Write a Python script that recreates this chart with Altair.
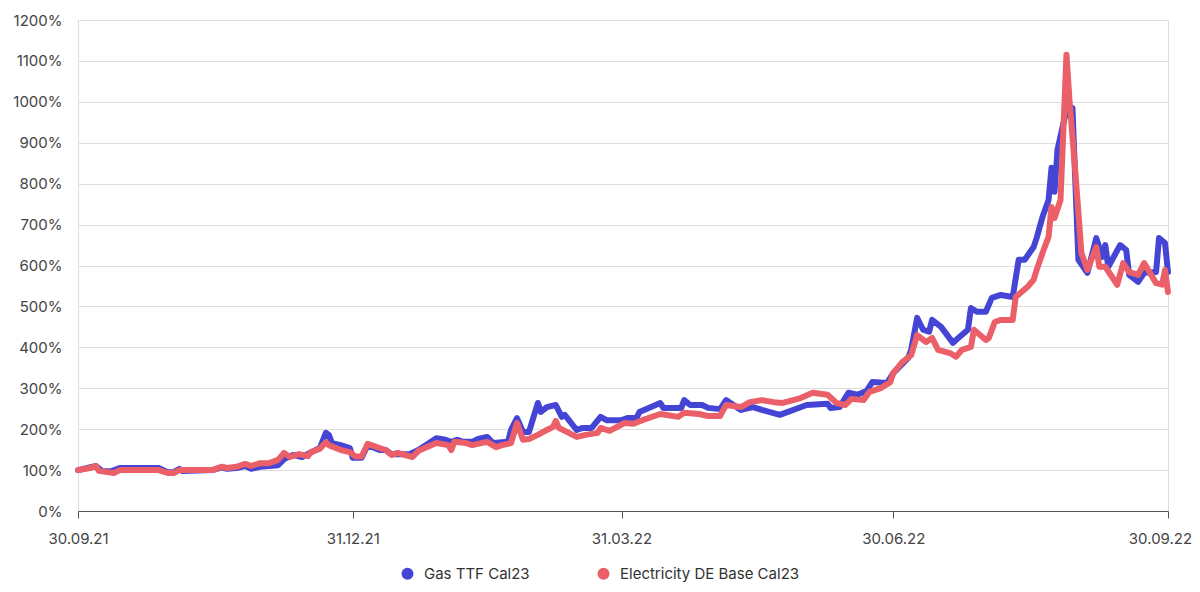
import altair as alt
import pandas as pd

series_names = ["Gas TTF Cal23", "Electricity DE Base Cal23"]
series_colors = ["#4545d5", "#eb5f69"]

gas_dates = [
    "2021-09-30", "2021-10-06", "2021-10-08", "2021-10-11", "2021-10-14", "2021-10-27",
    "2021-10-30", "2021-11-01", "2021-11-03", "2021-11-04", "2021-11-14", "2021-11-17",
    "2021-11-19", "2021-11-22", "2021-11-25", "2021-11-27", "2021-11-30", "2021-12-03",
    "2021-12-06", "2021-12-08", "2021-12-09", "2021-12-11", "2021-12-14", "2021-12-18",
    "2021-12-20", "2021-12-22", "2021-12-23", "2021-12-24", "2021-12-27", "2021-12-30",
    "2021-12-31", "2022-01-03", "2022-01-05", "2022-01-09", "2022-01-11", "2022-01-13",
    "2022-01-19", "2022-01-22", "2022-01-28", "2022-01-31", "2022-02-02", "2022-02-04",
    "2022-02-06", "2022-02-09", "2022-02-11", "2022-02-14", "2022-02-16", "2022-02-21",
    "2022-02-22", "2022-02-24", "2022-02-26", "2022-02-28", "2022-03-03", "2022-03-04",
    "2022-03-06", "2022-03-09", "2022-03-11", "2022-03-12", "2022-03-16", "2022-03-18",
    "2022-03-21", "2022-03-24", "2022-03-26", "2022-03-31", "2022-04-02", "2022-04-05",
    "2022-04-06", "2022-04-13", "2022-04-14", "2022-04-20", "2022-04-21", "2022-04-23",
    "2022-04-27", "2022-04-29", "2022-05-03", "2022-05-05", "2022-05-10", "2022-05-14",
    "2022-05-17", "2022-05-23", "2022-06-01", "2022-06-08", "2022-06-09", "2022-06-12",
    "2022-06-15", "2022-06-18", "2022-06-21", "2022-06-23", "2022-06-28", "2022-06-30",
    "2022-07-05", "2022-07-06", "2022-07-08", "2022-07-10", "2022-07-12", "2022-07-13",
    "2022-07-16", "2022-07-20", "2022-07-21", "2022-07-25", "2022-07-26", "2022-07-28",
    "2022-07-31", "2022-08-02", "2022-08-05", "2022-08-09", "2022-08-11", "2022-08-13",
    "2022-08-16", "2022-08-17", "2022-08-19", "2022-08-21", "2022-08-22", "2022-08-23",
    "2022-08-24", "2022-08-27", "2022-08-29", "2022-08-31", "2022-09-03", "2022-09-06",
    "2022-09-08", "2022-09-09", "2022-09-10", "2022-09-14", "2022-09-16", "2022-09-17",
    "2022-09-20", "2022-09-22", "2022-09-26", "2022-09-27", "2022-09-29", "2022-09-30",
]
gas_values = [
    100, 110, 98, 97, 105, 105,
    95, 95, 103, 98, 100, 106,
    103, 105, 110, 103, 108, 110,
    112, 127, 130, 137, 132, 147,
    154, 191, 186, 166, 161, 154,
    130, 130, 161, 149, 149, 139,
    139, 149, 178, 174, 169, 174,
    169, 169, 176, 181, 166, 169,
    198, 227, 193, 193, 264, 242,
    254, 259, 230, 235, 198, 203,
    203, 230, 222, 222, 227, 227,
    242, 264, 252, 252, 271, 259,
    259, 252, 249, 271, 247, 254,
    247, 235, 259, 262, 252, 254,
    289, 284, 293, 315, 313, 337,
    374, 394, 472, 443, 438, 467,
    450, 411, 418, 443, 496, 487,
    487, 521, 528, 523, 614, 614,
    645, 667, 719, 760, 839, 780,
    883, 980, 985, 614, 582, 667,
    621, 650, 597, 650, 638, 577,
    560, 582, 584, 667, 655, 584,
]

elec_dates = [
    "2021-09-30", "2021-10-04", "2021-10-06", "2021-10-07", "2021-10-10", "2021-10-12",
    "2021-10-14", "2021-10-27", "2021-10-30", "2021-11-01", "2021-11-03", "2021-11-14",
    "2021-11-17", "2021-11-19", "2021-11-22", "2021-11-25", "2021-11-27", "2021-11-30",
    "2021-12-03", "2021-12-06", "2021-12-08", "2021-12-10", "2021-12-13", "2021-12-16",
    "2021-12-17", "2021-12-20", "2021-12-22", "2021-12-23", "2021-12-27", "2021-12-30",
    "2022-01-01", "2022-01-03", "2022-01-05", "2022-01-09", "2022-01-11", "2022-01-13",
    "2022-01-15", "2022-01-20", "2022-01-22", "2022-01-28", "2022-02-01", "2022-02-02",
    "2022-02-03", "2022-02-07", "2022-02-09", "2022-02-12", "2022-02-14", "2022-02-17",
    "2022-02-19", "2022-02-22", "2022-02-24", "2022-02-26", "2022-02-28", "2022-03-03",
    "2022-03-06", "2022-03-08", "2022-03-09", "2022-03-10", "2022-03-16", "2022-03-19",
    "2022-03-23", "2022-03-24", "2022-03-27", "2022-04-01", "2022-04-04", "2022-04-07",
    "2022-04-13", "2022-04-19", "2022-04-21", "2022-04-26", "2022-04-29", "2022-05-03",
    "2022-05-05", "2022-05-10", "2022-05-13", "2022-05-17", "2022-05-21", "2022-05-24",
    "2022-05-30", "2022-06-03", "2022-06-08", "2022-06-11", "2022-06-14", "2022-06-16",
    "2022-06-20", "2022-06-22", "2022-06-26", "2022-06-29", "2022-06-30", "2022-07-03",
    "2022-07-06", "2022-07-08", "2022-07-11", "2022-07-13", "2022-07-15", "2022-07-19",
    "2022-07-21", "2022-07-23", "2022-07-26", "2022-07-27", "2022-07-31", "2022-08-01",
    "2022-08-03", "2022-08-05", "2022-08-09", "2022-08-10", "2022-08-14", "2022-08-16",
    "2022-08-17", "2022-08-19", "2022-08-21", "2022-08-22", "2022-08-23", "2022-08-25",
    "2022-08-27", "2022-08-28", "2022-08-30", "2022-09-01", "2022-09-03", "2022-09-06",
    "2022-09-07", "2022-09-09", "2022-09-13", "2022-09-15", "2022-09-17", "2022-09-20",
    "2022-09-22", "2022-09-26", "2022-09-28", "2022-09-29", "2022-09-30",
]
elec_values = [
    100, 105, 110, 98, 95, 93,
    100, 100, 93, 93, 100, 100,
    108, 105, 108, 115, 110, 117,
    117, 125, 142, 132, 139, 134,
    144, 152, 168, 161, 149, 144,
    133, 133, 164, 154, 149, 137,
    142, 132, 147, 166, 161, 149,
    169, 166, 161, 166, 169, 156,
    161, 166, 215, 174, 176, 186,
    198, 205, 220, 203, 181, 186,
    191, 203, 196, 215, 213, 222,
    237, 230, 240, 237, 232, 232,
    259, 254, 266, 271, 266, 264,
    276, 289, 284, 264, 259, 274,
    271, 291, 301, 315, 337, 364,
    381, 430, 413, 423, 394, 386,
    377, 394, 401, 443, 418, 423,
    462, 467, 467, 523, 548, 565,
    589, 631, 670, 743, 716, 760,
    1115, 1005, 826, 631, 589, 645,
    597, 597, 553, 606, 584, 577,
    606, 557, 553, 589, 535,
]

x_tick_dates = [(2021, 9, 30), (2021, 12, 31), (2022, 3, 31), (2022, 6, 30), (2022, 9, 30)]
y_tick_values = [0, 100, 200, 300, 400, 500, 600, 700, 800, 900, 1000, 1100, 1200]

df = pd.concat([
    pd.DataFrame({"date": pd.to_datetime(gas_dates), "value": gas_values, "series": series_names[0]}),
    pd.DataFrame({"date": pd.to_datetime(elec_dates), "value": elec_values, "series": series_names[1]}),
])

tick_dt = [alt.DateTime(year=y, month=m, date=d) for (y, m, d) in x_tick_dates]

x_enc = alt.X(
    "date:T",
    scale=alt.Scale(domain=[tick_dt[0], tick_dt[-1]]),
    axis=alt.Axis(
        values=tick_dt, format="%d.%m.%y", title=None, grid=False,
        domainColor="#555555", tickColor="#555555", tickSize=7, labelFlush=False,
        labelOffset={"condition": {"test": "datum.index > 0.99", "value": -8}, "value": 0},
        labelPadding=13, labelFontSize=15, labelColor="#444444", labelFont="Inter",
    ),
)
y_enc = alt.Y(
    "value:Q",
    scale=alt.Scale(domain=[0, 1200], nice=False),
    axis=alt.Axis(
        values=y_tick_values, labelExpr="datum.value + '%'", title=None,
        domain=False, ticks=False, labelPadding=16, labelFontSize=15,
        labelColor="#444444", labelFont="Inter", gridColor="#dddddd",
    ),
)
color_scale = alt.Scale(domain=series_names, range=series_colors)

# Invisible (size 0) circles carry the legend so its symbols are filled dots.
legend_layer = alt.Chart(df).mark_circle(size=0).encode(
    x=x_enc, y=y_enc,
    color=alt.Color(
        "series:N", scale=color_scale,
        legend=alt.Legend(
            title=None, orient="none", direction="horizontal", legendX=322, legendY=546,
            symbolType="circle", symbolSize=144, symbolOpacity=1, symbolStrokeWidth=0,
            labelFontSize=15, labelColor="#333333", labelFont="Inter", labelLimit=400,
            columnPadding=66, labelOffset=9,
        ),
    ),
)

base = alt.Chart(df).mark_line(strokeWidth=6, strokeJoin="round", strokeCap="round").encode(
    x=x_enc, y=y_enc, color=alt.Color("series:N", scale=color_scale, legend=None),
)

gas_line = base.transform_filter(alt.datum.series == series_names[0])
elec_line = base.transform_filter(alt.datum.series == series_names[1])

chart = alt.layer(legend_layer, gas_line, elec_line).properties(
    width=1090, height=491,
    autosize=alt.AutoSizeParams(type="none"),
    padding={"left": 70, "top": 12, "right": 24, "bottom": 73},
).configure_view(stroke=None).configure(background="white")

chart.save("out.html", embed_options={"renderer": "svg", "actions": False})
